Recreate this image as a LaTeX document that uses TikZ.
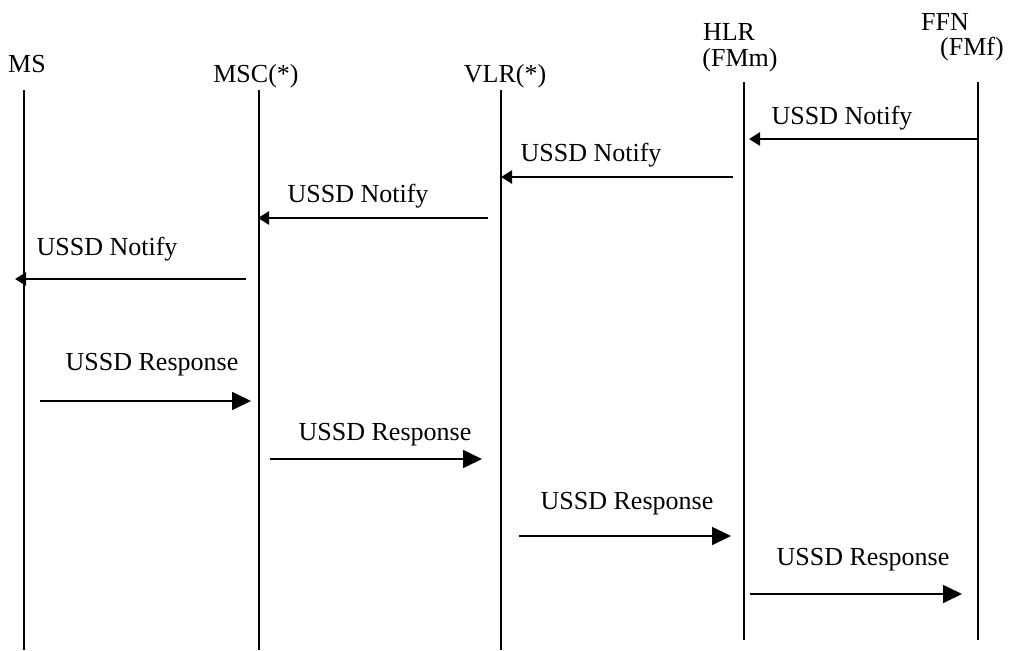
\documentclass[tikz,border=0pt]{standalone}
\usepackage{fontspec}
\setmainfont{Liberation Serif}
\usetikzlibrary{arrows.meta}
\begin{document}
\begin{tikzpicture}[x=1pt,y=-1pt,
  life/.style={line width=2pt},
  notify/.style={line width=2.4pt,-{Triangle[length=11pt,width=13pt]}},
  resp/.style={line width=1.7pt,-{Triangle[length=19pt,width=18pt]}},
  lbl/.style={font=\fontsize{26}{28}\selectfont, anchor=base, inner sep=0pt},
]
\useasboundingbox[fill=white] (0,0) rectangle (1013,651);
% headers
\node[lbl] (msl)  at (27,72) {MS};
\node[lbl] (mscl) at (256,82) {MSC(*)};
\node[lbl] (vlrl) at (505,82) {VLR(*)};
\node[lbl] (hlrl) at (729,40) {HLR};
\node[lbl] (hlrl2) at (740,66) {(FMm)};
\node[lbl] (ffnl) at (945,30) {FFN};
\node[lbl] (ffnl2) at (972,55) {(FMf)};
% lifelines
\coordinate (ms1) at (24,90);   \coordinate (ms2) at (24,650);
\coordinate (msc1) at (259,90); \coordinate (msc2) at (259,650);
\coordinate (vlr1) at (501,90); \coordinate (vlr2) at (501,650);
\coordinate (hlr1) at (744,82); \coordinate (hlr2) at (744,640);
\coordinate (ffn1) at (978,82); \coordinate (ffn2) at (978,640);
\draw[life] (ms1) -- (ms2);
\draw[life] (msc1) -- (msc2);
\draw[life] (vlr1) -- (vlr2);
\draw[life] (hlr1) -- (hlr2);
\draw[life] (ffn1) -- (ffn2);
% notify arrows
\coordinate (n1a) at (978,139); \coordinate (n1b) at (749,139);
\coordinate (n2a) at (733,177); \coordinate (n2b) at (501,177);
\coordinate (n3a) at (488,218); \coordinate (n3b) at (258,218);
\coordinate (n4a) at (246,279); \coordinate (n4b) at (15,279);
\draw[notify] (n1a) -- (n1b);
\draw[notify] (n2a) -- (n2b);
\draw[notify] (n3a) -- (n3b);
\draw[notify] (n4a) -- (n4b);
\node[lbl] (t1) at (842,124) {USSD Notify};
\node[lbl] (t2) at (591,161) {USSD Notify};
\node[lbl] (t3) at (358,202) {USSD Notify};
\node[lbl] (t4) at (107,255) {USSD Notify};
% response arrows
\coordinate (r1a) at (40,401);  \coordinate (r1b) at (251,401);
\coordinate (r2a) at (270,459); \coordinate (r2b) at (482,459);
\coordinate (r3a) at (519,536); \coordinate (r3b) at (731,536);
\coordinate (r4a) at (750,594); \coordinate (r4b) at (962,594);
\draw[resp] (r1a) -- (r1b);
\draw[resp] (r2a) -- (r2b);
\draw[resp] (r3a) -- (r3b);
\draw[resp] (r4a) -- (r4b);
\node[lbl] (u1) at (152,370) {USSD Response};
\node[lbl] (u2) at (385,440) {USSD Response};
\node[lbl] (u3) at (627,509) {USSD Response};
\node[lbl] (u4) at (863,565) {USSD Response};
\end{tikzpicture}
\end{document}
